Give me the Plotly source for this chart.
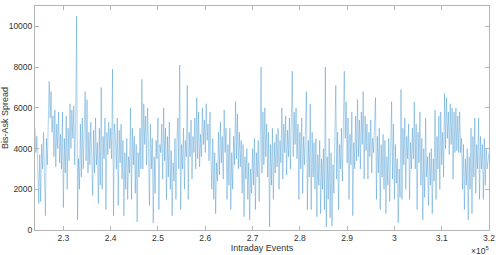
import plotly.graph_objects as go

x_start = 224000
x_step = 200

spread = [
    5000, 3800, 4600, 2500, 1300, 3700, 1400, 4200, 3000, 4800, 2500, 700, 4500, 3200, 5200, 7300, 5500, 6800, 4800, 5600,
    3600, 5900, 3100, 5200, 4000, 5800, 3300, 4700, 3000, 5800, 1100, 4500, 2800, 5600, 2000, 5000, 3400, 6200, 4000, 5900,
    4500, 6100, 3200, 5400, 10500, 500, 3500, 2000, 5200, 2600, 5500, 3000, 4800, 6800, 3400, 6400, 2800, 4800, 3200, 5300,
    3600, 1700, 4900, 2800, 5500, 3200, 4300, 1300, 5000, 2200, 7000, 2000, 4600, 3500, 5500, 1000, 4800, 3700, 5300, 4000,
    5000, 3500, 7900, 700, 5200, 4600, 3000, 5500, 1200, 4900, 3300, 5200, 2500, 4400, 700, 3800, 2000, 4500, 1500, 3600,
    2800, 6000, 1500, 5000, 3200, 4600, 1800, 4200, 400, 3800, 2600, 5000, 3000, 7400, 3000, 6200, 4200, 5600, 3200, 6000,
    4000, 1200, 5200, 3000, 4500, 350, 3600, 1800, 4400, 3500, 5500, 1000, 4200, 3800, 5200, 2500, 6000, 3400, 5000, 1500,
    4600, 2600, 5300, 2000, 3900, 700, 3300, 2400, 4500, 1500, 4300, 5500, 3000, 8100, 1000, 4200, 3000, 5000, 2000, 4400,
    3600, 7100, 1500, 4800, 3600, 5400, 2500, 4600, 3800, 5500, 3000, 6500, 3500, 5800, 3100, 4700, 3600, 6000, 4200, 5400,
    3800, 6200, 4400, 5200, 3400, 5800, 3500, 2000, 4500, 1500, 3800, 800, 3300, 2400, 4800, 2700, 5300, 3300, 4600, 2500,
    5900, 3800, 5000, 1500, 4200, 2200, 5000, 1000, 3800, 2000, 4600, 3200, 6300, 3500, 5700, 3000, 4800, 3100, 4400, 1800,
    4200, 650, 3600, 2500, 4000, 1500, 3300, 500, 3000, 1800, 4000, 2200, 4500, 1000, 3800, 2600, 4400, 1400, 3900, 8000,
    2800, 5800, 3200, 6000, 3600, 5200, 2600, 4800, 150, 4200, 2200, 5000, 1500, 4300, 2800, 4700, 3100, 5000, 2000, 4400,
    3300, 6000, 2500, 5200, 3800, 5600, 2700, 4900, 3600, 5500, 3000, 5100, 7800, 3600, 5800, 4200, 6000, 3500, 5200, 1500,
    4800, 3000, 5500, 1800, 4600, 3200, 5000, 6800, 1000, 4400, 2600, 6200, 1000, 4800, 2600, 4300, 2000, 4500, 650, 3700,
    2200, 4400, 800, 3500, 2000, 4000, 1000, 8000, 150, 3600, 1500, 4500, 600, 3800, 200, 3200, 1800, 4200, 7100, 2500,
    4800, 1000, 4200, 3000, 5000, 2400, 6500, 7800, 4500, 6300, 3300, 5500, 1500, 4700, 3200, 5800, 700, 4300, 3000, 5600,
    3400, 6400, 3600, 5400, 3000, 5800, 4200, 6800, 2500, 5600, 3900, 5200, 2500, 4800, 3600, 5400, 2800, 4500, 3800, 5000,
    6500, 1500, 4600, 2800, 5000, 1000, 4200, 2600, 4700, 2000, 4400, 800, 3600, 2200, 4500, 1400, 3800, 6300, 2500, 5200,
    1500, 4200, 2300, 3500, 350, 3000, 1600, 6900, 1500, 5000, 3200, 5500, 2000, 4600, 3500, 5200, 1500, 4300, 3000, 5000,
    3500, 6300, 3000, 5200, 1000, 4800, 3300, 5800, 2200, 4500, 500, 4000, 1600, 5500, 2600, 3600, 1200, 3800, 2200, 4000,
    800, 3500, 2400, 5900, 1500, 4600, 3000, 5600, 2000, 5800, 3200, 4800, 2600, 6700, 4000, 6500, 4500, 5800, 3700, 6200,
    4200, 6000, 2500, 5800, 3800, 6000, 3900, 5600, 3800, 5800, 3800, 4500, 2000, 4200, 1000, 3500, 2200, 4000, 500, 3600,
    2000, 5000, 800, 4600, 2600, 5500, 1800, 4200, 3000, 5500, 1500, 4600, 3000, 4200, 1500, 4500, 2200, 4000, 3000, 3600, 3800,
]
events = [x_start + i * x_step for i in range(len(spread))]

x_tickvals = [230000, 240000, 250000, 260000, 270000, 280000, 290000, 300000, 310000, 320000]
x_ticktext = ["2.3", "2.4", "2.5", "2.6", "2.7", "2.8", "2.9", "3", "3.1", "3.2"]
y_tickvals = [0, 2000, 4000, 6000, 8000, 10000]
y_ticktext = ["0", "2000", "4000", "6000", "8000", "10000"]

fig = go.Figure()
fig.add_trace(go.Scatter(
    x=events, y=spread, mode="lines",
    line=dict(color="rgba(0,114,189,0.62)", width=0.5),
    showlegend=False, hoverinfo="skip",
))

fam = "Liberation Sans, Arial, sans-serif"
font = dict(family=fam, size=8.5, color="#333333")
axis_common = dict(
    showline=True, linecolor="#b5b5b5", linewidth=1, mirror="ticks",
    ticks="inside", ticklen=4, tickcolor="#b5b5b5", tickwidth=1,
    showgrid=False, zeroline=False, tickfont=font, automargin=False,
)
fig.update_xaxes(range=[224000, 320000], tickvals=x_tickvals, ticktext=x_ticktext,
                 title=dict(text="Intraday Events", font=dict(family=fam, size=9, color="#333333"), standoff=0),
                 **axis_common)
fig.update_yaxes(range=[0, 11000], tickvals=y_tickvals, ticktext=y_ticktext,
                 title=dict(text="Bis-Ask Spread", font=dict(family=fam, size=9, color="#333333"), standoff=4),
                 **axis_common)

fig.add_annotation(text="×10<sup>5</sup>", xref="paper", yref="paper", x=1.005, y=-0.06,
                   xanchor="right", yanchor="top", showarrow=False,
                   font=dict(family=fam, size=8.5, color="#333333"))

fig.update_layout(
    width=496, height=255,
    margin=dict(l=35, r=7, t=6, b=25, autoexpand=False),
    paper_bgcolor="white", plot_bgcolor="white",
)
fig.write_html("out.html")
